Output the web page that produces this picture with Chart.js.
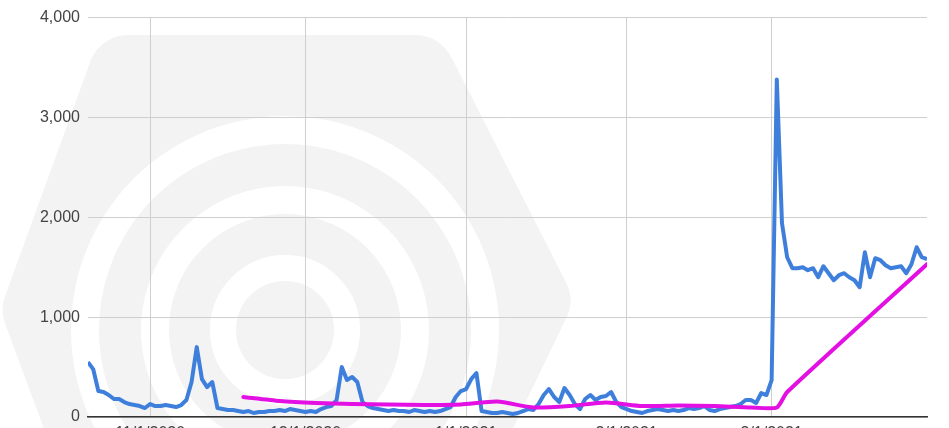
<!DOCTYPE html>
<html><head><meta charset="utf-8">
<script src="https://cdn.jsdelivr.net/npm/chart.js@4/dist/chart.umd.min.js"></script>
<style>
html,body{margin:0;padding:0;overflow:hidden;background:#fff;width:949px;height:428px}
#wrap{position:relative;width:949px;height:450px}
</style></head>
<body><div id="wrap"><canvas id="c" width="949" height="450"></canvas></div>
<script>
// Day offsets counted from 10/20/2020 (day 0)
const tickDays = [12, 42, 73, 104, 132];
const tickLabels = ['11/1/2020', '12/1/2020', '1/1/2021', '2/1/2021', '3/1/2021'];

// Daily values (blue), day 0 .. day 162
const dailyValues = [
  550, 480, 260, 250, 220, 180, 180, 150, 130, 120,
  110, 90, 130, 110, 110, 120, 110, 100, 120, 170,
  350, 700, 380, 300, 350, 90, 80, 70, 70, 60,
  50, 60, 40, 50, 50, 60, 60, 70, 60, 80,
  70, 60, 50, 60, 50, 80, 100, 110, 170, 500,
  370, 400, 350, 150, 110, 90, 80, 70, 60, 70,
  60, 60, 50, 70, 60, 50, 60, 50, 60, 80,
  100, 200, 260, 280, 380, 440, 60, 50, 40, 40,
  50, 40, 30, 40, 60, 80, 70, 130, 220, 280,
  200, 150, 290, 220, 130, 80, 180, 220, 170, 200,
  210, 250, 150, 100, 80, 60, 50, 40, 60, 70,
  80, 70, 60, 70, 60, 70, 90, 80, 90, 110,
  70, 60, 80, 90, 100, 110, 130, 170, 170, 140,
  240, 220, 370, 3380, 1940, 1600, 1490, 1490, 1500, 1470,
  1490, 1400, 1510, 1440, 1370, 1420, 1440, 1400, 1370, 1300,
  1650, 1400, 1590, 1570, 1520, 1490, 1500, 1510, 1440, 1530,
  1700, 1600, 1580
];

// Average line (magenta)
const avgDays = [30, 37, 44, 51, 58, 65, 72, 79, 86, 93, 100, 107, 114, 121, 128, 133, 135, 162];
const avgValues = [200, 160, 140, 130, 125, 120, 125, 155, 95, 110, 145, 110, 115, 110, 95, 95, 250, 1530];

const yTickStep = 1000;
const yMax = 4000;

const watermark = {
  id: 'watermark',
  beforeDraw(chart) {
    const ctx = chart.ctx;
    ctx.save();
    const pts = [[100,35],[440,35],[575,300],[440,580],[100,580],[0,310]];
    const r = 40;
    ctx.beginPath();
    const n = pts.length;
    const mid = (a,b)=>[(a[0]+b[0])/2,(a[1]+b[1])/2];
    const s = mid(pts[n-1], pts[0]);
    ctx.moveTo(s[0], s[1]);
    for (let i = 0; i < n; i++) {
      const p = pts[i], q = pts[(i+1)%n];
      ctx.arcTo(p[0], p[1], q[0], q[1], r);
    }
    ctx.closePath();
    ctx.fillStyle = '#f3f3f3';
    ctx.fill();
    ctx.strokeStyle = '#ffffff';
    ctx.lineCap = 'butt';
    const cx = 285, cy = 330;
    ctx.lineWidth = 28;
    ctx.beginPath(); ctx.arc(cx, cy, 200, Math.PI*0.55, Math.PI*2.35); ctx.stroke();
    ctx.beginPath(); ctx.arc(cx, cy, 130, Math.PI*0.6, Math.PI*2.4); ctx.stroke();
    ctx.lineWidth = 26;
    ctx.beginPath(); ctx.arc(cx, cy, 62, 0, Math.PI*2); ctx.stroke();
    ctx.restore();
  }
};

new Chart(document.getElementById('c'), {
  type: 'line',
  data: {
    datasets: [
      {
        data: avgDays.map((d, i) => ({x: d, y: avgValues[i]})),
        borderColor: '#e30fe3',
        borderWidth: 4,
        pointRadius: 0,
        tension: 0.2,
        borderJoinStyle: 'round',
        borderCapStyle: 'round'
      },
      {
        data: dailyValues.map((v, i) => ({x: i, y: v})),
        borderColor: '#3f7fdc',
        borderWidth: 4,
        pointRadius: 0,
        tension: 0,
        borderJoinStyle: 'round'
      }
    ]
  },
  options: {
    responsive: false,
    animation: false,
    devicePixelRatio: 1,
    layout: {padding: {top: 16, right: 22, bottom: 0, left: 0}},
    plugins: {legend: {display: false}, tooltip: {enabled: false}},
    scales: {
      x: {
        type: 'linear',
        min: 0,
        max: 162,
        afterBuildTicks: (scale) => { scale.ticks = tickDays.map(v => ({value: v})); },
        afterFit: (scale) => { scale.height = 33; },
        ticks: {
          autoSkip: false,
          maxRotation: 0,
          padding: 7,
          color: '#444',
          font: {family: 'Liberation Sans', size: 16},
          callback: (v) => tickLabels[tickDays.indexOf(v)]
        },
        grid: {color: '#cfcfcf', lineWidth: 1, drawTicks: false},
        border: {display: true, color: '#333', width: 1.5}
      },
      y: {
        min: 0,
        max: yMax,
        afterFit: (scale) => { scale.width = 88; },
        ticks: {
          stepSize: yTickStep,
          padding: 8,
          color: '#444',
          font: {family: 'Liberation Sans', size: 16},
          callback: (v) => v.toLocaleString('en-US')
        },
        grid: {color: '#cfcfcf', lineWidth: 1, drawTicks: false},
        border: {display: false}
      }
    }
  },
  plugins: [watermark]
});
</script>
</body></html>
